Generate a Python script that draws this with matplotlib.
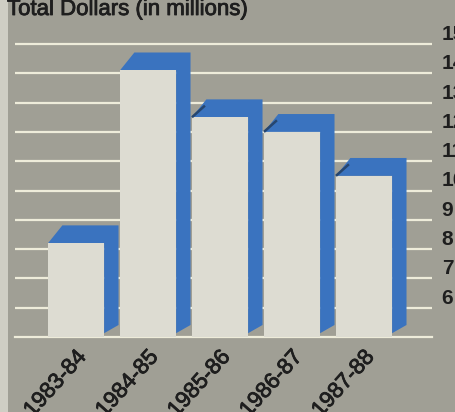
import matplotlib.pyplot as plt
import matplotlib.patheffects as pe
import matplotlib.transforms as mtrans
from matplotlib.patches import Polygon, Rectangle
import numpy as np

#-------------------------------------------------------------------------------
# Data

seasons = ["1983-84", "1984-85", "1985-86", "1986-87", "1987-88"]
dollars = [8.2, 14.1, 12.5, 12.0, 10.5]     # millions
y_ticks = [6, 7, 8, 9, 10, 11, 12, 13, 14, 15]
y_base = 5

#-------------------------------------------------------------------------------

BG = "#a09f95"
FACE = "#dddcd2"
BLUE = "#3a73bf"
EDGE = "#26466f"
GRID = "#eeecda"
INK = "#1e1e1e"

# fake a medium weight for the regular text
MEDIUM = [pe.withStroke(linewidth=0.6, foreground=INK)]

def draw_bar(ax, x, value, prev_value, half_w=0.39, dx=0.2, dy=0.61):
  """ Draw one pseudo-3D bar: blue top/right faces behind a light front face.
  """
  x0, x1 = x - half_w, x + half_w
  blue = Polygon([(x0, value), (x0+dx, value+dy), (x1+dx, value+dy),
                  (x1+dx, y_base+0.41), (x1, y_base+0.13), (x1, value)],
                 closed=True, facecolor=BLUE, edgecolor="none", zorder=3)
  ax.add_patch(blue)
  ax.add_patch(Rectangle((x0, y_base), x1-x0, value-y_base,
                         facecolor=FACE, edgecolor="none", zorder=4))
  # dark crease where the bar steps down from the previous one
  if prev_value is not None and value < prev_value:
    ax.plot([x0, x0+dx*0.9], [value, value+dy*0.65], color=EDGE, lw=1.8,
            solid_capstyle="butt", zorder=5)

#-------------------------------------------------------------------------------

def dollars_plot(out_name):
  plt.rcParams["font.family"] = ["Liberation Sans", "DejaVu Sans"]
  fig = plt.figure(figsize=(4.55, 4.12), dpi=100)
  fig.patch.set_facecolor(BG)
  # light page margin on the left
  fig.add_artist(Rectangle((0, 0), 8/455, 1, transform=fig.transFigure,
                           facecolor="#cfcec4", edgecolor="none"))

  ax = fig.add_axes([15/455, 75/412, 417/455, 316/412])
  ax.set_facecolor("none")
  for sp in ax.spines.values():
    sp.set_visible(False)

  x = np.arange(len(seasons))
  ax.set_xlim(-0.848, 4.944)
  ax.set_ylim(y_base, y_base + 316/29.3)

  # horizontal rules behind the bars
  ax.set_yticks(y_ticks)
  ax.yaxis.tick_right()
  ax.yaxis.grid(True, color=GRID, lw=1.6, zorder=1)
  ax.set_axisbelow(True)
  ax.axhline(y_base, color=GRID, lw=1.6, zorder=2, clip_on=False)
  ax.tick_params(axis="y", length=0, pad=7, labelsize=15, labelcolor=INK)
  for lab in ax.get_yticklabels():
    lab.set_fontweight("bold")
    lab.set_verticalalignment("bottom")

  prev = None
  for xi, v in zip(x, dollars):
    draw_bar(ax, xi, v, prev)
    prev = v

  ax.set_xticks(x)
  ax.set_xticklabels(seasons, rotation=48, ha="right", va="center",
                     rotation_mode="anchor", fontsize=16, color=INK)
  ax.tick_params(axis="x", length=0, pad=12)
  shift = mtrans.ScaledTranslation(5/72, 0, fig.dpi_scale_trans)
  for lab in ax.get_xticklabels():
    lab.set_transform(lab.get_transform() + shift)
    lab.set_path_effects(MEDIUM)

  fig.text(7/455, 1 - 15/412, "Total Dollars (in millions)", fontsize=16,
           color=INK, ha="left", va="baseline", path_effects=MEDIUM)

  fig.savefig(out_name, dpi=100, facecolor=BG)
  plt.close(fig)

#-------------------------------------------------------------------------------

def main():
  dollars_plot("out.png")

if __name__ == "__main__":
  main()
